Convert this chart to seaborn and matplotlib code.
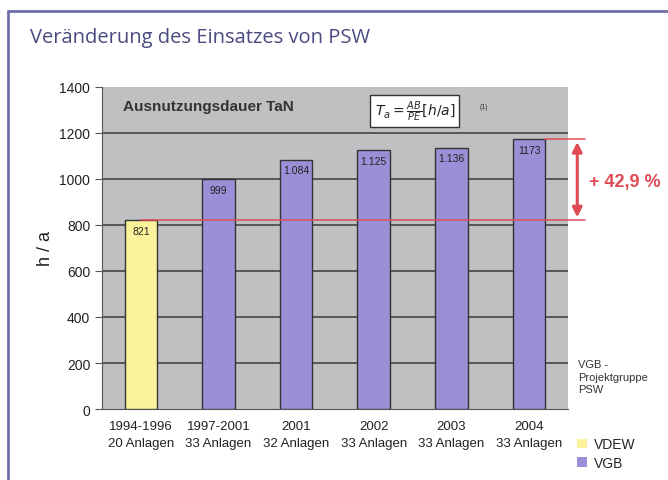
import pandas as pd
import seaborn as sns
import matplotlib.pyplot as plt
from matplotlib.lines import Line2D
from matplotlib.patches import Patch, FancyArrowPatch

# data
periods = ['1994-1996\n20 Anlagen', '1997-2001\n33 Anlagen', '2001\n32 Anlagen',
           '2002\n33 Anlagen', '2003\n33 Anlagen', '2004\n33 Anlagen']
hours = [821, 999, 1084, 1125, 1136, 1173]
source = ['VDEW', 'VGB', 'VGB', 'VGB', 'VGB', 'VGB']
labels = ['821', '999', '1.084', '1.125', '1.136', '1173']
change_text = '+ 42,9 %'

df = pd.DataFrame({'period': periods, 'hours': hours, 'source': source})
colors = {'VDEW': '#fbf39c', 'VGB': '#9a90d8'}

sns.set_style('white')
plt.rcParams['font.family'] = ['Liberation Sans', 'DejaVu Sans']

fig = plt.figure(figsize=(6.68, 4.81), dpi=100)
ax = fig.add_axes([0.1527, 0.1476, 0.6975, 0.6695])

sns.barplot(data=df, x='period', y='hours', hue='source', palette=colors,
            dodge=False, width=0.42, edgecolor='#333333', linewidth=1.0,
            saturation=1, legend=False, ax=ax, zorder=3)

ax.set_facecolor('#c0c0c2')
ax.set_ylim(0, 1400)
ax.set_xlim(-0.5, 5.5)
ax.set_yticks(range(0, 1401, 200))
for y in range(200, 1400, 200):
    ax.axhline(y, color='#3a3a3a', lw=1.1, zorder=1)
for s in ['top', 'right']:
    ax.spines[s].set_visible(False)
ax.spines['left'].set_color('#555555')
ax.spines['bottom'].set_color('#555555')

ax.set_xticks([i + 0.5 for i in range(-1, 6)], minor=True)
ax.tick_params(axis='x', which='major', length=0, labelsize=9.5, pad=8, colors='#222222')
ax.tick_params(axis='x', which='minor', length=5, direction='out', color='#555555')
ax.tick_params(axis='y', length=5, direction='out', color='#555555', labelsize=10,
               labelcolor='#222222', left=True)
for lbl in ax.get_xticklabels():
    lbl.set_linespacing(1.5)
ax.set_xlabel('')
ax.set_ylabel('h / a', fontsize=13, labelpad=4, color='#222222')

# value labels inside the bars
for i, (v, t) in enumerate(zip(hours, labels)):
    ax.text(i, v - 25, t, ha='center', va='top', fontsize=7.5, color='#222222', zorder=5)

# red reference lines and arrow
red = '#e04a55'
ax.plot([0, 5.72], [hours[0], hours[0]], color=red, lw=1.1, clip_on=False, zorder=4)
ax.plot([5.2, 5.72], [hours[-1], hours[-1]], color=red, lw=1.1, clip_on=False, zorder=4)
arr = FancyArrowPatch((5.62, hours[0]), (5.62, hours[-1]), arrowstyle='<|-|>',
                      mutation_scale=14, color=red, lw=2.2, clip_on=False, zorder=4)
ax.add_patch(arr)
fig.text(0.882, 0.62, change_text, color=red, fontsize=13, fontweight='bold',
         va='center', ha='left')

# inner title and formula
ax.text(0.045, 0.94, 'Ausnutzungsdauer TaN', transform=ax.transAxes, fontsize=11,
        fontweight='bold', color='#333333', va='center')
ax.text(0.585, 0.925, r'$T_{a} = \frac{AB}{PE}[h/a]$', transform=ax.transAxes,
        fontsize=10, family='DejaVu Serif', va='center', ha='left',
        bbox=dict(boxstyle='square,pad=0.3', fc='white', ec='#333333', lw=1))
ax.text(0.81, 0.94, '(1)', transform=ax.transAxes, fontsize=5, color='#333333', va='center')

# side note
fig.text(0.866, 0.215, 'VGB -\nProjektgruppe\nPSW', fontsize=8, color='#333333',
         va='center', ha='left', linespacing=1.3)

# legend
handles = [Patch(facecolor=colors['VDEW'], edgecolor='none', label='VDEW'),
           Patch(facecolor=colors['VGB'], edgecolor='none', label='VGB')]
fig.legend(handles=handles, loc='center left', bbox_to_anchor=(0.845, 0.055),
           frameon=False, fontsize=10, handlelength=0.7, handleheight=0.7,
           handletextpad=0.5, labelspacing=0.3)

# slide title and frame
fig.text(0.045, 0.92, 'Veränderung des Einsatzes von PSW', fontsize=14.5,
         color='#4a4a80', family='Open Sans', va='center')
fig.add_artist(Line2D([0.012, 1.0], [0.975, 0.975], color='#7070a8', lw=2))
fig.add_artist(Line2D([0.012, 0.012], [0.0, 0.975], color='#7070a8', lw=2))

fig.savefig('out.png', dpi=100)
